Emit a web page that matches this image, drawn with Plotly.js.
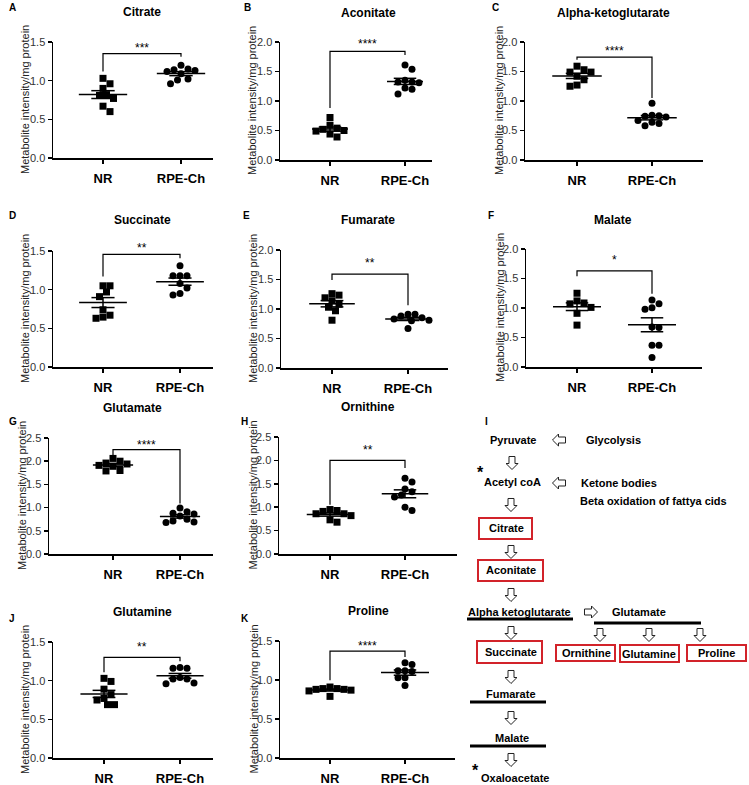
<!DOCTYPE html>
<html><head><meta charset="utf-8">
<script src="https://cdn.plot.ly/plotly-3.0.1.min.js"></script>
<style>html,body{margin:0;padding:0;background:#fff;}#chart{width:749px;height:785px;}</style>
</head><body><div id="chart"></div>
<script>
// ---- data (metabolite intensity / mg protein) ----
const groups = ['NR', 'RPE-Ch'];
const citrate_NR = [1.03, 0.96, 0.90, 0.82, 0.81, 0.77, 0.67, 0.60];
const citrate_RPE = [1.20, 1.14, 1.12, 1.13, 1.15, 1.09, 1.01, 0.96, 1.02];
const aconitate_NR = [0.72, 0.59, 0.54, 0.52, 0.50, 0.49, 0.44, 0.39];
const aconitate_RPE = [1.61, 1.54, 1.35, 1.32, 1.31, 1.32, 1.22, 1.20, 1.12];
const akg_NR = [1.59, 1.53, 1.49, 1.49, 1.42, 1.36, 1.25, 1.27];
const akg_RPE = [0.96, 0.76, 0.74, 0.73, 0.75, 0.64, 0.67, 0.62, 0.58];
const succinate_NR = [1.05, 1.05, 0.97, 0.91, 0.74, 0.67, 0.63, 0.645];
const succinate_RPE = [1.31, 1.18, 1.18, 1.18, 1.08, 1.02, 0.95, 0.93];
const fumarate_NR = [1.26, 1.235, 1.19, 1.14, 1.08, 1.03, 0.97, 0.81];
const fumarate_RPE = [0.91, 0.91, 0.88, 0.85, 0.81, 0.80, 0.83, 0.67];
const malate_NR = [1.25, 1.12, 1.085, 1.07, 1.01, 0.91, 0.71];
const malate_RPE = [1.135, 1.07, 1.005, 0.98, 0.67, 0.68, 0.37, 0.37, 0.16];
const glutamate_NR = [2.06, 2.00, 1.96, 1.94, 1.91, 1.89, 1.80, 1.79];
const glutamate_RPE = [0.99, 0.88, 0.86, 0.91, 0.82, 0.75, 0.71, 0.68, 0.69];
const ornithine_NR = [0.93, 0.95, 0.91, 0.86, 0.82, 0.86, 0.68, 0.73];
const ornithine_RPE = [1.62, 1.54, 1.39, 1.33, 1.22, 1.26, 1.00, 0.93];
const glutamine_NR = [1.03, 0.99, 0.89, 0.82, 0.77, 0.75, 0.69, 0.69];
const glutamine_RPE = [1.16, 1.16, 1.17, 1.04, 1.02, 1.02, 0.96, 0.97];
const proline_NR = [0.91, 0.89, 0.88, 0.88, 0.89, 0.87, 0.86, 0.79];
const proline_RPE = [1.22, 1.20, 1.12, 1.11, 1.12, 1.03, 1.03, 0.93];
const significance = ['***', '****', '****', '**', '**', '*', '****', '**', '**', '****'];
const panelTitles = ['Citrate', 'Aconitate', 'Alpha-ketoglutarate', 'Succinate', 'Fumarate', 'Malate', 'Glutamate', 'Ornithine', 'Glutamine', 'Proline'];
const panelLetters = ['A', 'B', 'C', 'D', 'E', 'F', 'G', 'H', 'J', 'K'];
const yTitle = 'Metabolite intensity/mg protein';

// ---- layout geometry (pixels) ----
const W = 749, H = 785;
const PX = x => x / W, PY = y => 1 - y / H;
const FONT = 'Liberation Sans, Arial, Helvetica, sans-serif';

const panels = [
  {nr: citrate_NR, rpe: citrate_RPE, box: [53, 213, 42, 158], nrX: 103, rpeX: 181, ymax: 1.5, lp: [7, 8], tp: [142, 12], ytX: 25, br: [1.12, 1.35, 1.31], sy: 1.46, mh: 0.31},
  {nr: aconitate_NR, rpe: aconitate_RPE, box: [280, 432, 42, 160], nrX: 330, rpeX: 405, ymax: 2.0, lp: [242, 8], tp: [368, 13], ytX: 252, br: [0.88, 1.84, 1.78], sy: 2.01, mh: 0.24},
  {nr: akg_NR, rpe: akg_RPE, box: [525, 703, 42, 160], nrX: 577, rpeX: 652, ymax: 2.0, lp: [490, 8], tp: [613, 13], ytX: 499, br: [1.70, 1.745, 1.05], sy: 1.90, mh: 0.33},
  {nr: succinate_NR, rpe: succinate_RPE, box: [53, 213, 251, 367], nrX: 103, rpeX: 180, ymax: 1.5, lp: [7, 216], tp: [142, 220], ytX: 25, br: [1.17, 1.457, 1.405], sy: 1.58, mh: 0.31},
  {nr: fumarate_NR, rpe: fumarate_RPE, box: [281, 448, 250, 368], nrX: 332, rpeX: 408, ymax: 2.0, lp: [241, 216], tp: [368, 220], ytX: 253, br: [1.49, 1.59, 1.065], sy: 1.83, mh: 0.3},
  {nr: malate_NR, rpe: malate_RPE, box: [526, 702, 249, 367], nrX: 577, rpeX: 652, ymax: 2.0, lp: [486, 216], tp: [613, 220], ytX: 500, br: [1.54, 1.63, 1.24], sy: 1.86, mh: 0.32},
  {nr: glutamate_NR, rpe: glutamate_RPE, box: [49, 213, 438, 554], nrX: 113, rpeX: 180, ymax: 2.5, lp: [7, 421], tp: [132, 408], ytX: 22, br: [2.09, 2.25, 1.09], sy: 2.41, mh: 0.3},
  {nr: ornithine_NR, rpe: ornithine_RPE, box: [279, 457, 437, 554], nrX: 330, rpeX: 405, ymax: 2.5, lp: [239, 421], tp: [368, 407], ytX: 252, br: [1.05, 2.0, 1.84], sy: 2.29, mh: 0.31},
  {nr: glutamine_NR, rpe: glutamine_RPE, box: [53, 213, 642, 758], nrX: 104, rpeX: 180, ymax: 1.5, lp: [7, 618], tp: [142, 612], ytX: 25, br: [1.11, 1.30, 1.25], sy: 1.47, mh: 0.31},
  {nr: proline_NR, rpe: proline_RPE, box: [280, 455, 641, 758], nrX: 330, rpeX: 405, ymax: 1.5, lp: [239, 618], tp: [368, 611], ytX: 253, br: [0.996, 1.37, 1.295], sy: 1.47, mh: 0.32}
];

function stats(v) {
  const n = v.length, m = v.reduce((a, b) => a + b, 0) / n;
  const sd = Math.sqrt(v.reduce((a, b) => a + (b - m) * (b - m), 0) / (n - 1));
  return {m, se: sd / Math.sqrt(n)};
}
// deterministic beeswarm offsets (in x data units)
function swarm(vals, pyu, pxu, d) {
  const idx = vals.map((v, i) => i).sort((a, b) => vals[b] - vals[a]);
  const placed = [], off = new Array(vals.length).fill(0);
  for (const i of idx) {
    const yp = vals[i] * pyu;
    let best = 0;
    for (let k = 0; k < 60; k++) {
      const c = (k % 2 === 1 ? 1 : -1) * Math.ceil(k / 2) * d / 2;
      if (placed.every(p => Math.hypot(p[0] - c, p[1] - yp) >= d)) { best = c; break; }
    }
    placed.push([best, yp]);
    off[i] = best / pxu;
  }
  return off;
}

const data = [], layout = {
  width: W, height: H, margin: {l: 0, r: 0, t: 0, b: 0},
  paper_bgcolor: '#fff', plot_bgcolor: 'rgba(0,0,0,0)', showlegend: false,
  font: {family: FONT, color: '#000'}, annotations: [], shapes: []
};

panels.forEach((p, k) => {
  const sfx = k === 0 ? '' : String(k + 1);
  const xa = 'x' + sfx, ya = 'y' + sfx;
  const [L, R, T, B] = p.box;
  const unit = p.rpeX - p.nrX;
  const pyu = (B - T) / p.ymax;
  layout['xaxis' + sfx] = {
    domain: [PX(L), PX(R)], anchor: ya, range: [(L - p.nrX) / unit, (R - p.nrX) / unit],
    tickvals: [0, 1], ticktext: groups.map(g => '<b>' + g + '</b>'),
    showline: true, linecolor: '#000', linewidth: 1.5, ticks: 'outside', ticklen: 4, tickwidth: 1.5,
    tickcolor: '#000', showgrid: false, zeroline: false, fixedrange: true, ticklabelstandoff: 4,
    tickfont: {family: FONT, size: 13, color: '#000'}
  };
  layout['yaxis' + sfx] = {
    domain: [PY(B), PY(T)], anchor: xa, range: [0, p.ymax], dtick: 0.5, tick0: 0, tickformat: '.1f',
    showline: true, linecolor: '#000', linewidth: 1.5, ticks: 'outside', ticklen: 4, tickwidth: 1.5,
    tickcolor: '#000', showgrid: false, zeroline: false, fixedrange: true,
    tickfont: {family: FONT, size: 11, color: '#333'}
  };
  const offN = swarm(p.nr, pyu, unit, 7);
  const offR = swarm(p.rpe, pyu, unit, 7);
  data.push({type: 'scatter', mode: 'markers', xaxis: xa, yaxis: ya, x: offN.map(o => 0 + o), y: p.nr,
    marker: {symbol: 'square', size: 7, color: '#000'}, cliponaxis: false, hoverinfo: 'y'});
  data.push({type: 'scatter', mode: 'markers', xaxis: xa, yaxis: ya, x: offR.map(o => 1 + o), y: p.rpe,
    marker: {symbol: 'circle', size: 7, color: '#000'}, cliponaxis: false, hoverinfo: 'y'});
  // mean +/- SEM
  const lx = [], ly = [];
  [[0, p.nr], [1, p.rpe]].forEach(([c, v]) => {
    const s = stats(v), sh = 0.15;
    lx.push(c - p.mh, c + p.mh, null, c - sh, c + sh, null, c - sh, c + sh, null, c, c, null);
    ly.push(s.m, s.m, null, s.m + s.se, s.m + s.se, null, s.m - s.se, s.m - s.se, null, s.m - s.se, s.m + s.se, null);
  });
  data.push({type: 'scatter', mode: 'lines', xaxis: xa, yaxis: ya, x: lx, y: ly,
    line: {color: '#000', width: 1.5}, hoverinfo: 'skip', cliponaxis: false});
  // significance bracket
  data.push({type: 'scatter', mode: 'lines', xaxis: xa, yaxis: ya, x: [0, 0, 1, 1], y: [p.br[0], p.br[1], p.br[1], p.br[2]],
    line: {color: '#000', width: 1.2}, hoverinfo: 'skip', cliponaxis: false});
  // stars placed in paper space (can sit above the axis range)
  const starPx = B - p.sy * pyu;
  const midPx = p.nrX + unit / 2;
  layout.annotations.push({xref: 'paper', yref: 'paper', x: PX(midPx), y: PY(starPx), text: significance[k], showarrow: false,
    xanchor: 'center', yanchor: 'middle', yshift: -3, font: {family: FONT, size: 12, color: '#000'}});
  // titles, letters, y title
  layout.annotations.push({xref: 'paper', yref: 'paper', x: PX(p.tp[0]), y: PY(p.tp[1]), text: '<b>' + panelTitles[k] + '</b>',
    showarrow: false, xanchor: 'center', yanchor: 'middle', font: {family: FONT, size: 12, color: '#000'}});
  layout.annotations.push({xref: 'paper', yref: 'paper', x: PX(p.lp[0]), y: PY(p.lp[1]), text: '<b>' + panelLetters[k] + '</b>',
    showarrow: false, xanchor: 'left', yanchor: 'middle', font: {family: FONT, size: 10, color: '#000'}});
  layout.annotations.push({xref: 'paper', yref: 'paper', x: PX(p.ytX), y: PY((T + B) / 2), text: yTitle, textangle: -90,
    showarrow: false, xanchor: 'center', yanchor: 'middle', font: {family: FONT, size: 11, color: '#222'}});
});

// ---- pathway diagram (panel I) ----
const diagramText = [
  ['I', 483, 421, 'left'], ['Pyruvate', 513, 440, 'center'], ['Glycolysis', 613, 440, 'center'],
  ['Acetyl coA', 512, 482, 'center'], ['Ketone bodies', 579, 483, 'left'], ['Beta oxidation of fattya cids', 578, 501, 'left'],
  ['Citrate', 506, 528, 'center'], ['Aconitate', 511, 570, 'center'], ['Alpha ketoglutarate', 519, 612, 'center'],
  ['Glutamate', 639, 612, 'center'], ['Succinate', 511, 652, 'center'], ['Ornithine', 586, 653, 'center'],
  ['Glutamine', 649, 654, 'center'], ['Proline', 716, 653, 'center'], ['Fumarate', 511, 694, 'center'],
  ['Malate', 512, 738, 'center'], ['Oxaloacetate', 515, 778, 'center']
];
diagramText.forEach(([t, x, y, a]) => layout.annotations.push({xref: 'paper', yref: 'paper', x: PX(x), y: PY(y),
  text: '<b>' + t + '</b>', showarrow: false, xanchor: a, yanchor: 'middle',
  font: {family: FONT, size: t === 'I' ? 10 : 11, color: '#000'}}));
[[480, 472], [475, 770]].forEach(([x, y]) => layout.annotations.push({xref: 'paper', yref: 'paper', x: PX(x), y: PY(y),
  text: '<b>*</b>', showarrow: false, xanchor: 'center', yanchor: 'middle', font: {family: FONT, size: 16, color: '#000'}}));

const redBoxes = [[479, 518, 532, 539], [478, 560, 543, 581], [477, 641, 542, 663], [556, 645, 615, 661], [620, 645, 679, 662], [687, 645, 746, 661]];
redBoxes.forEach(([x0, y0, x1, y1]) => layout.shapes.push({type: 'rect', xref: 'paper', yref: 'paper',
  x0: PX(x0), y0: PY(y1), x1: PX(x1), y1: PY(y0), line: {color: '#d2232a', width: 2}, fillcolor: 'rgba(0,0,0,0)'}));
const barLines = [[467, 573, 619], [594, 701, 623], [470, 546, 702], [470, 546, 746]];
barLines.forEach(([x0, x1, y]) => layout.shapes.push({type: 'line', xref: 'paper', yref: 'paper',
  x0: PX(x0), x1: PX(x1), y0: PY(y), y1: PY(y), line: {color: '#000', width: 3}}));

function arrowPath(cx, cy, dir) {
  const len = 13, w = 12, sw = 6, hh = 6;
  const pts = [[-len / 2, -sw / 2], [len / 2 - hh, -sw / 2], [len / 2 - hh, -w / 2], [len / 2, 0], [len / 2 - hh, w / 2], [len / 2 - hh, sw / 2], [-len / 2, sw / 2]];
  const map = ([u, v]) => {
    if (dir === 'down') return [cx + v, cy + u];
    if (dir === 'left') return [cx - u, cy + v];
    return [cx + u, cy + v];
  };
  return 'M' + pts.map(map).map(([x, y]) => PX(x).toFixed(5) + ',' + PY(y).toFixed(5)).join(' L') + ' Z';
}
const arrows = [[512, 463, 'down'], [511, 505, 'down'], [511, 552, 'down'], [511, 595, 'down'], [511, 633, 'down'],
  [600, 635, 'down'], [649, 635, 'down'], [700, 635, 'down'], [511, 677, 'down'], [511, 718, 'down'], [511, 760, 'down'],
  [559, 440, 'left'], [559, 483, 'left'], [591, 612, 'right']];
arrows.forEach(([x, y, d]) => layout.shapes.push({type: 'path', xref: 'paper', yref: 'paper', path: arrowPath(x, y, d),
  line: {color: '#222', width: 1}, fillcolor: '#fff'}));

Plotly.newPlot('chart', data, layout, {displayModeBar: false, staticPlot: true});
</script></body></html>
